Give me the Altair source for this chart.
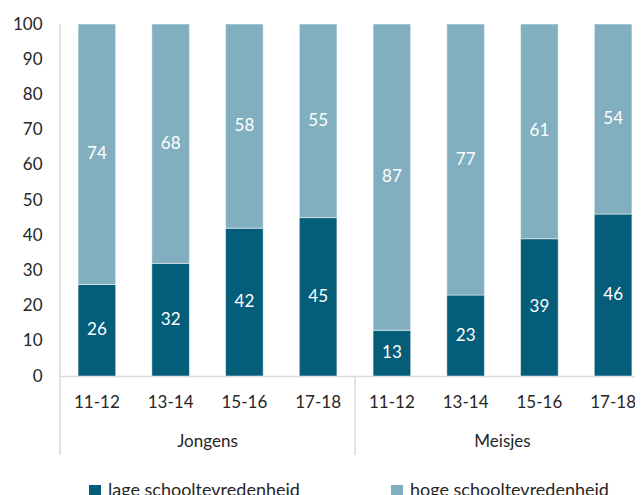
import altair as alt
import pandas as pd

groups = ["Jongens"] * 4 + ["Meisjes"] * 4
ages = ["11-12", "13-14", "15-16", "17-18"] * 2
lage = [26, 32, 42, 45, 13, 23, 39, 46]
hoge = [74, 68, 58, 55, 87, 77, 61, 54]
series = ["lage schooltevredenheid", "hoge schooltevredenheid"]
colors = ["#045E79", "#82AFBF"]
y_ticks = list(range(0, 101, 10))

rows = []
for g, a, l, h in zip(groups, ages, lage, hoge):
    cat = f"{g}|{a}"
    rows.append(dict(cat=cat, group=g, age=a, serie=series[0], value=l, ord=0))
    rows.append(dict(cat=cat, group=g, age=a, serie=series[1], value=h, ord=1))
df = pd.DataFrame(rows)
cats = [f"{g}|{a}" for g, a in zip(groups, ages)]

FONT = "Lato"
TXT = "#262626"
GRID = "#d9d9d9"
W, H = 575, 352
RANGE = 590
STEP = RANGE / 8

xscale = alt.Scale(domain=cats, range=[0, RANGE], paddingInner=0.49, paddingOuter=0.245)
yscale = alt.Scale(domain=[0, 100], nice=False)
xaxis = alt.Axis(title=None, labelExpr="split(datum.label,'|')[1]", ticks=False,
                 domainColor=GRID, domainWidth=1.5, labelPadding=18, labelFontSize=17,
                 labelColor=TXT, labelFont=FONT, labelAngle=0, labelOverlap=False)
yaxis = alt.Axis(title=None, values=y_ticks, grid=False, ticks=False, domain=False,
                 labelPadding=18, labelFontSize=17, labelColor=TXT, labelFont=FONT,
                 labelOverlap=False)


def X():
    return alt.X("cat:N", scale=xscale, sort=cats, axis=xaxis)


bars = alt.Chart(df).mark_bar(stroke="white", strokeWidth=0.5).encode(
    x=X(),
    y=alt.Y("value:Q", stack="zero", scale=yscale, axis=yaxis),
    color=alt.Color("serie:N", scale=alt.Scale(domain=series, range=colors),
                    legend=alt.Legend(title=None, orient="none", direction="horizontal",
                                      legendX=26, legendY=458, padding=0,
                                      symbolType="square", symbolSize=144, symbolStrokeWidth=0,
                                      labelFontSize=18, labelFont=FONT, labelColor=TXT,
                                      labelLimit=400, labelOffset=4, columnPadding=88)),
    order=alt.Order("ord:Q"),
)

text = alt.Chart(df).transform_stack(
    stack="value", groupby=["cat"], as_=["v0", "v1"], sort=[alt.SortField("ord")]
).transform_calculate(mid="(datum.v0+datum.v1)/2").mark_text(
    color="white", fontSize=17, font=FONT, baseline="middle"
).encode(
    x=X(),
    y=alt.Y("mid:Q", scale=yscale, axis=yaxis),
    text="value:Q",
)

gdf = pd.DataFrame({"cat": ["Jongens|13-14", "Meisjes|13-14"], "label": ["Jongens", "Meisjes"]})
glabels = alt.Chart(gdf).mark_text(dx=STEP / 2, fontSize=17, font=FONT, color=TXT, baseline="middle").encode(
    x=X(), y=alt.value(418), text="label:N"
)

left = alt.Chart(pd.DataFrame({"cat": [cats[0]]})).mark_rule(xOffset=-STEP / 2, color=GRID, strokeWidth=1.5).encode(
    x=X(), y=alt.value(0), y2=alt.value(431)
)
seps = alt.Chart(pd.DataFrame({"cat": [cats[3], cats[7]]})).mark_rule(xOffset=STEP / 2, color=GRID, strokeWidth=1.5).encode(
    x=X(), y=alt.value(H), y2=alt.value(431)
)

chart = alt.layer(bars, text, glabels, left, seps).properties(
    width=W, height=H,
    autosize=alt.AutoSizeParams(type="none"),
    padding={"left": 52, "top": 16, "right": 0, "bottom": 119},
).configure_view(stroke=None)

chart.save("out.html", embed_options={"renderer": "svg", "actions": False})
